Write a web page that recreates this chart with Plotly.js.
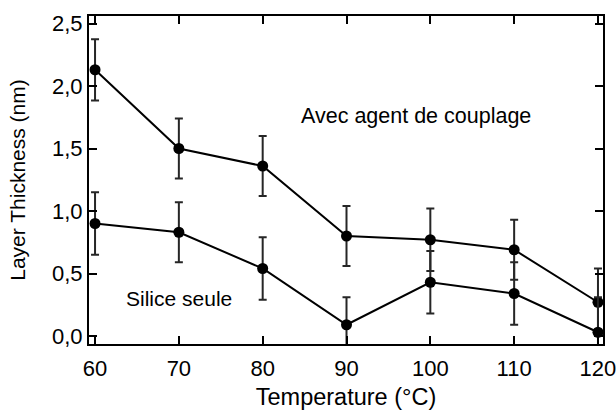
<!DOCTYPE html>
<html><head><meta charset="utf-8">
<script src="https://cdn.plot.ly/plotly-3.0.1.min.js"></script>
<style>html,body{margin:0;padding:0;background:#fff}</style>
</head><body><div id="chart" style="width:616px;height:412px"></div>
<script>
const temperatures = [60, 70, 80, 90, 100, 110, 120];
const avecValues = [2.13, 1.50, 1.36, 0.80, 0.77, 0.69, 0.27];
const avecErrors = [0.245, 0.24, 0.24, 0.24, 0.25, 0.24, 0.27];
const siliceValues = [0.90, 0.83, 0.54, 0.09, 0.43, 0.34, 0.03];
const siliceErrors = [0.25, 0.24, 0.25, 0.22, 0.25, 0.25, 0.28];
const yTicks = [0, 0.5, 1, 1.5, 2, 2.5];
const xTicks = [60, 70, 80, 90, 100, 110, 120];

const FONT = 'Liberation Sans, Arial, sans-serif';
function series(y, err, name) {
  return {
    x: temperatures, y: y, name: name, type: 'scatter', mode: 'lines+markers',
    line: {color: '#000', width: 2},
    marker: {color: '#000', size: 11},
    error_y: {type: 'data', array: err, visible: true, color: '#262626', thickness: 2, width: 4},
    showlegend: false
  };
}
const axisCommon = {
  showline: true, linecolor: '#000', linewidth: 2, mirror: 'ticks',
  ticks: 'inside', ticklen: 8, tickwidth: 2, tickcolor: '#000',
  showgrid: false, zeroline: false, ticklabeloverflow: 'allow',
  tickfont: {family: FONT, size: 22, color: '#000'}
};
const layout = {
  width: 616, height: 412,
  margin: {l: 89, r: 13, t: 16, b: 68},
  paper_bgcolor: '#fff', plot_bgcolor: '#fff',
  separators: ',.',
  xaxis: Object.assign({}, axisCommon, {
    range: [59.28, 120.6], tickvals: xTicks, ticklabelstandoff: 4,
    title: {text: 'Temperature (°C)', standoff: 8, font: {family: FONT, size: 23.5, color: '#000'}}
  }),
  yaxis: Object.assign({}, axisCommon, {
    range: [-0.064, 2.56], tickvals: yTicks, tickformat: '.1f',
    title: {text: 'Layer Thickness (nm)', standoff: 21, font: {family: FONT, size: 21, color: '#000'}}
  }),
  annotations: [
    {x: 98.3, y: 1.76, xref: 'x', yref: 'y', text: 'Avec agent de couplage', showarrow: false,
     font: {family: FONT, size: 21.5, color: '#000'}},
    {x: 70.0, y: 0.30, xref: 'x', yref: 'y', text: 'Silice seule', showarrow: false,
     font: {family: FONT, size: 21, color: '#000'}}
  ]
};
Plotly.newPlot('chart', [series(avecValues, avecErrors, 'Avec agent de couplage'), series(siliceValues, siliceErrors, 'Silice seule')], layout, {displayModeBar: false});
</script></body></html>
